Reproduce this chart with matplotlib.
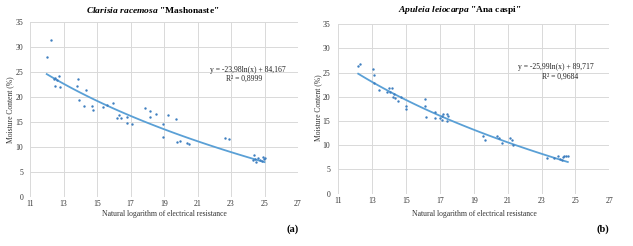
import numpy as np
import matplotlib.pyplot as plt

# panel (a) Clarisia racemosa
x_a = [12.0, 12.23, 12.45, 12.5, 12.6, 12.75, 12.49, 12.8, 13.85, 13.79, 14.32, 13.95,
       14.24, 14.72, 14.78, 15.34, 15.58, 15.94, 16.31, 16.2, 16.41, 16.77, 16.77, 17.1,
       17.87, 18.16, 18.16, 18.5, 18.92, 18.92, 19.22, 19.72, 19.8, 19.96, 20.39, 20.51,
       22.64, 22.9, 24.3, 24.37, 24.43, 24.5, 24.6, 24.73, 24.85, 24.9, 24.97, 25.0]
y_a = [27.9, 31.3, 23.6, 23.7, 23.4, 24.1, 22.2, 21.9, 23.6, 22.1, 21.4, 19.4,
       18.1, 18.1, 17.4, 17.9, 18.4, 18.7, 16.4, 15.7, 15.7, 15.9, 14.7, 14.6,
       17.7, 17.1, 15.9, 16.5, 14.6, 12.1, 16.3, 15.5, 11.1, 11.3, 10.9, 10.7,
       11.9, 11.7, 7.4, 8.4, 7.7, 7.1, 7.8, 7.5, 7.2, 8.1, 7.6, 7.8]

# panel (b) Apuleia leiocarpa
x_b = [12.17, 12.27, 13.06, 13.12, 13.12, 13.4, 13.85, 14.0, 14.15, 14.05, 14.3, 14.24,
       14.34, 14.53, 14.69, 14.97, 15.0, 16.14, 16.14, 16.15, 16.7, 16.7, 17.1, 17.16,
       17.43, 17.5, 17.4, 17.1, 17.0, 19.56, 19.66, 20.37, 20.5, 20.68, 21.13, 21.23,
       21.29, 23.3, 23.76, 23.99, 24.1, 24.22, 24.25, 24.35, 24.45, 24.55]
y_b = [26.4, 26.7, 25.7, 24.6, 22.8, 21.5, 20.9, 21.9, 21.9, 20.9, 20.5, 20.0,
       19.7, 19.1, 20.0, 18.2, 17.5, 19.5, 18.0, 15.9, 16.9, 15.7, 16.0, 16.4,
       16.4, 16.0, 15.1, 15.2, 15.6, 11.8, 11.1, 11.8, 11.5, 10.4, 11.4, 11.1,
       10.0, 7.3, 7.3, 7.8, 7.1, 6.9, 7.5, 7.8, 7.8, 7.8]

# trendline coefficients shown on the chart: y = a*ln(x) + b
fit_a = (-23.98, 84.167)
fit_b = (-25.99, 89.717)

XTICKS = list(range(11, 28, 2))
YTICKS = list(range(0, 36, 5))

plt.rcParams['font.family'] = 'Liberation Serif'
plt.rcParams['mathtext.fontset'] = 'custom'
plt.rcParams['mathtext.it'] = 'Liberation Serif:bold:italic'
plt.rcParams['mathtext.rm'] = 'Liberation Serif:bold'

BLUE = '#5aa0d6'
DOT = '#3f7fc0'
GREY = '#333333'


def draw(ax, xs, ys, fit, pad):
    ax.set_xlim(11, 27)
    ax.set_ylim(0, 35)
    ax.set_xticks(XTICKS)
    ax.set_yticks(YTICKS)
    ax.grid(True, color='#d9d9d9', linewidth=0.7)
    ax.set_axisbelow(True)
    for s in ax.spines.values():
        s.set_visible(False)
    ax.tick_params(length=0, labelsize=5.6, colors=GREY)
    ax.tick_params(axis='x', pad=2.5)
    ax.tick_params(axis='y', pad=pad)
    xx = np.linspace(min(xs), max(xs), 100)
    ax.plot(xx, fit[0] * np.log(xx) + fit[1], color=BLUE, lw=1.3)
    ax.scatter(xs, ys, s=3, color=DOT, zorder=3, linewidths=0)


fig = plt.figure(figsize=(6.33, 2.46), dpi=100)
ax1 = fig.add_axes([30 / 633, 49 / 246, 268 / 633, 175 / 246])
ax2 = fig.add_axes([338.4 / 633, 52.4 / 246, 270.9 / 633, 169.4 / 246])
draw(ax1, x_a, y_a, fit_a, 5)
draw(ax2, x_b, y_b, fit_b, 6)

W, H = 633, 246


def ftext(x, y, s, **kw):
    fig.text(x / W, 1 - y / H, s, ha='center', va='center', **kw)


ftext(153, 10, r'$\mathit{Clarisia\ racemosa}$ "Mashonaste"', fontsize=6.8, fontweight='bold')
ftext(460, 10, r'$\mathit{Apuleia\ leiocarpa}$ "Ana caspi"', fontsize=6.8, fontweight='bold')

for xc in (164, 474):
    ftext(xc, 214, 'Natural logarithm of electrical resistance', fontsize=5.5, color=GREY)
ftext(10, 110, 'Moisture Content (%)', fontsize=5.5, rotation=90, color=GREY)
ftext(318, 108, 'Moisture Content (%)', fontsize=5.5, rotation=90, color=GREY)

ftext(248, 70, 'y = -23,98ln(x) + 84,167', fontsize=5.5, color='#222222')
ftext(244, 79, 'R² = 0,8999', fontsize=5.5, color='#222222')
ftext(556, 67, 'y = -25,99ln(x) + 89,717', fontsize=5.5, color='#222222')
ftext(560, 77, 'R² = 0,9684', fontsize=5.5, color='#222222')

ftext(293, 229, '(a)', fontsize=7.5, fontweight='bold')
ftext(603, 229, '(b)', fontsize=7.5, fontweight='bold')

fig.savefig('out.png', dpi=100, facecolor='white')
